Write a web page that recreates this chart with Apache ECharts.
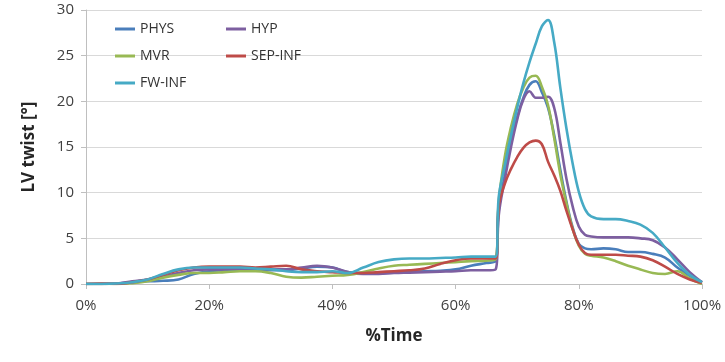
<!DOCTYPE html>
<html>
<head>
<meta charset="utf-8">
<script src="https://cdn.jsdelivr.net/npm/echarts@6/dist/echarts.min.js"></script>
<style>
  html, body { margin: 0; padding: 0; background: #fff; }
  #chart { width: 725px; height: 362px; }
</style>
</head>
<body>
<div id="chart"></div>
<script>
// % of cycle time (x) shared by every curve
var timePct = [0, 2.5, 5, 7.5, 10, 12.5, 15, 17.5, 20, 22.5, 25, 27.5, 30, 32.5, 35, 37.5, 40, 42.5, 45, 47.5,
    50, 52.5, 55, 57.5, 60, 62.5, 65, 66.5, 67, 68, 69, 70, 71, 72, 73, 74, 75, 76, 77, 78, 79, 80, 81, 82,
    84, 86, 88, 90, 92, 94, 96, 98, 100];

// LV twist [deg] per case
var phys = [0, 0, 0.05, 0.2, 0.3, 0.35, 0.5, 1.1, 1.4, 1.5, 1.6, 1.6, 1.5, 1.5, 1.7, 1.9, 1.8, 1.3, 1.2, 1.2,
    1.3, 1.35, 1.4, 1.45, 1.6, 2.0, 2.3, 2.5, 8, 12, 15.5, 18.3, 20.4, 21.8, 22.2, 21, 19.3, 16.3, 12.5, 9, 6.2, 4.4, 3.9, 3.8,
    3.9, 3.8, 3.5, 3.5, 3.3, 2.9, 1.8, 0.9, 0.2];
var hyp = [0, 0, 0.05, 0.3, 0.5, 0.8, 1.2, 1.5, 1.6, 1.6, 1.7, 1.7, 1.6, 1.6, 1.8, 2.0, 1.8, 1.3, 1.1, 1.1,
    1.2, 1.25, 1.3, 1.35, 1.4, 1.5, 1.5, 1.6, 7.5, 11.5, 15, 18, 20.2, 21.1, 20.4, 20.4, 20.5, 19.3, 15.5, 11.5, 8.5, 6.3, 5.4, 5.2,
    5.1, 5.1, 5.1, 5.0, 4.8, 4.0, 2.7, 1.3, 0.2];
var mvr = [0, 0, 0, 0.1, 0.3, 0.7, 1.0, 1.2, 1.2, 1.3, 1.4, 1.4, 1.2, 0.8, 0.7, 0.8, 0.9, 1.0, 1.3, 1.7,
    2.0, 2.1, 2.2, 2.3, 2.4, 2.5, 2.55, 2.7, 9, 14, 17.2, 19.7, 21.5, 22.6, 22.8, 21.6, 19.6, 16, 12, 8.8, 6, 4.2, 3.3, 3.1,
    2.9, 2.5, 2.0, 1.6, 1.2, 1.1, 1.4, 0.6, 0];
var sepInf = [0, 0.05, 0, 0.2, 0.5, 1.0, 1.5, 1.8, 1.9, 1.9, 1.9, 1.8, 1.9, 2.0, 1.6, 1.4, 1.3, 1.2, 1.2, 1.3,
    1.4, 1.5, 1.7, 2.2, 2.6, 2.8, 2.8, 2.8, 8.5, 11, 12.6, 13.9, 14.9, 15.5, 15.7, 15.3, 13.4, 11.9, 10.2, 8, 6, 4.3, 3.4, 3.2,
    3.2, 3.2, 3.1, 3.0, 2.6, 1.9, 1.1, 0.5, 0.1];
var fwInf = [0, 0, 0.05, 0.2, 0.5, 1.1, 1.6, 1.8, 1.8, 1.8, 1.8, 1.7, 1.6, 1.4, 1.3, 1.3, 1.4, 1.2, 1.8, 2.4,
    2.7, 2.8, 2.8, 2.85, 2.9, 3.0, 3.0, 3.0, 9.5, 13, 16.3, 19.3, 22, 24.3, 26.3, 28.2, 28.9, 26.5, 21.5, 17, 13.2, 10.1, 8.2, 7.4,
    7.1, 7.1, 6.9, 6.5, 5.6, 4.0, 2.3, 1.0, 0.2];

var seriesNames = ['PHYS', 'HYP', 'MVR', 'SEP-INF', 'FW-INF'];
var seriesValues = [phys, hyp, mvr, sepInf, fwInf];
var seriesColors = ['#4a7ebb', '#7d5fa0', '#98b954', '#be4b48', '#46aac5'];

function pairs(vals) {
    return timePct.map(function (t, i) { return [t, vals[i]]; });
}

var series = seriesNames.map(function (name, i) {
    return {
        name: name,
        type: 'line',
        data: pairs(seriesValues[i]),
        showSymbol: false,
        symbol: 'none',
        smooth: 0.4,
        lineStyle: { width: 2.6, color: seriesColors[i] },
        itemStyle: { color: seriesColors[i] }
    };
});

var legendText = { fontFamily: 'Open Sans', fontSize: 14, color: '#333333' };

var chart = echarts.init(document.getElementById('chart'));
var option = {
    animation: false,
    textStyle: { fontFamily: 'Open Sans' },
    grid: { left: 86, right: 23, top: 10, bottom: 78 },
    legend: [{
        orient: 'vertical', left: 110, top: 17, itemGap: 13,
        icon: 'rect', itemWidth: 20, itemHeight: 3,
        textStyle: legendText,
        data: ['PHYS', 'MVR', 'FW-INF']
    }, {
        orient: 'vertical', left: 221, top: 17, itemGap: 13,
        icon: 'rect', itemWidth: 20, itemHeight: 3,
        textStyle: legendText,
        data: ['HYP', 'SEP-INF']
    }],
    xAxis: {
        type: 'value', min: 0, max: 100, interval: 20,
        name: '%Time', nameLocation: 'middle', nameGap: 44,
        nameTextStyle: { fontSize: 17, fontWeight: 'bold', color: '#262626' },
        axisLine: { lineStyle: { color: '#bfbfbf' } },
        axisTick: { show: true, length: 5, lineStyle: { color: '#bfbfbf' } },
        axisLabel: { formatter: '{value}%', fontSize: 15, color: '#404040', margin: 14 },
        splitLine: { show: false }
    },
    yAxis: {
        type: 'value', min: 0, max: 30, interval: 5,
        name: 'LV twist [°]', nameLocation: 'middle', nameGap: 48,
        nameTextStyle: { fontSize: 17, fontWeight: 'bold', color: '#262626' },
        axisLine: { show: true, lineStyle: { color: '#bfbfbf' } },
        axisTick: { show: true, length: 5, lineStyle: { color: '#bfbfbf' } },
        axisLabel: { fontSize: 15, color: '#404040', margin: 12 },
        splitLine: { lineStyle: { color: '#d9d9d9' } }
    },
    series: series
};
chart.setOption(option);
</script>
</body>
</html>
